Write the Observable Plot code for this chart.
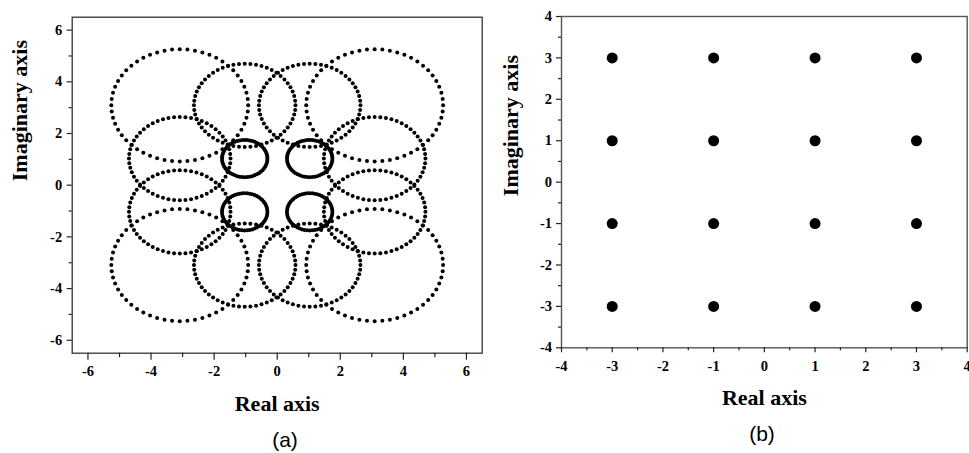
<!DOCTYPE html>
<html><head><meta charset="utf-8">
<script src="https://cdn.jsdelivr.net/npm/d3@7"></script>
<script src="https://cdn.jsdelivr.net/npm/@observablehq/plot@0.6"></script>
<style>
body{margin:0;background:#fff;}
#wrap{position:relative;width:969px;height:453px;overflow:hidden;background:#fff;}
#pa{position:absolute;left:0;top:0;}
#pb{position:absolute;left:490px;top:0;}
.cap{position:absolute;font-family:"Liberation Sans",Arial,sans-serif;font-size:21px;transform:translate(-50%,-50%);white-space:nowrap;}
#wrap svg g[aria-label="x-axis tick label"],
#wrap svg g[aria-label="y-axis tick label"],
#wrap svg g[aria-label="x-axis tick label"] text,
#wrap svg g[aria-label="y-axis tick label"] text{
  font-size:14.5px !important;font-weight:bold !important;font-family:"Liberation Serif","Times New Roman",serif !important;fill:#000;
}
</style></head><body>
<div id="wrap"><div id="pa"></div><div id="pb"></div>
<div class="cap" style="left:285px;top:440px">(a)</div>
<div class="cap" style="left:762px;top:434px">(b)</div>
</div>
<script>
// ---- Panel (a): loop centres and radii, 16 loops ----
const loopCenterRe = [-3.09,-1.03,1.03,3.09, -3.09,-1.03,1.03,3.09, -3.09,-1.03,1.03,3.09, -3.09,-1.03,1.03,3.09];
const loopCenterIm = [3.09,3.09,3.09,3.09, 1.03,1.03,1.03,1.03, -1.03,-1.03,-1.03,-1.03, -3.09,-3.09,-3.09,-3.09];
const loopRadius   = [2.17,1.61,1.61,2.17, 1.61,0.72,0.72,1.61, 1.61,0.72,0.72,1.61, 2.17,1.61,1.61,2.17];
const dotsPerLoop = 56;

// ---- Panel (b): 16-QAM constellation ----
const qamRe = [-3,-1,1,3, -3,-1,1,3, -3,-1,1,3, -3,-1,1,3];
const qamIm = [3,3,3,3, 1,1,1,1, -1,-1,-1,-1, -3,-3,-3,-3];

// ---- tick values ----
const ticksA_major = [-6,-4,-2,0,2,4,6];
const ticksA_minor = [-5,-3,-1,1,3,5];
const ticksB_major = [-4,-3,-2,-1,0,1,2,3,4];
const ticksB_minor = [-3.5,-2.5,-1.5,-0.5,0.5,1.5,2.5,3.5];

// table of dots along each loop (circle outline sampled for drawing)
const loopTable = [];
loopCenterRe.forEach((cx, i) => {
  const cy = loopCenterIm[i], r = loopRadius[i];
  for (let k = 0; k < dotsPerLoop; k++) {
    const t = 2 * Math.PI * k / dotsPerLoop;
    loopTable.push({re: cx + r * Math.cos(t), im: cy + r * Math.sin(t)});
  }
});
const qamTable = qamRe.map((re, i) => ({re, im: qamIm[i]}));

const serif = '"Liberation Serif","Times New Roman",serif';
const fmt = d => String(d);
const ink = "#222";
const tf = 14.5;

const plotA = Plot.plot({
  width: 490, height: 415,
  marginLeft: 71.7, marginRight: 8.3, marginTop: 16.7, marginBottom: 62.3,
  x: {domain: [-6.5, 6.5]},
  y: {domain: [-6.5, 6.5]},
  style: {fontFamily: serif, fontWeight: "bold", fontSize: "14px", background: "transparent", overflow: "visible", color: "black"},
  marks: [
    Plot.dot(loopTable, {x: "re", y: "im", r: 2, fill: "black", stroke: "none"}),
    Plot.frame({stroke: "#333", strokeWidth: 1.3}),
    Plot.axisX(ticksA_major, {tickSize: 7, tickPadding: 6, tickFormat: fmt, label: null, stroke: ink, strokeWidth: 1.2, fill: "black", fontSize: tf, fontWeight: "bold", fontFamily: serif}),
    Plot.axisX(ticksA_minor, {tickSize: 4.5, tickFormat: () => "", label: null, stroke: ink, strokeWidth: 1.2}),
    Plot.axisY(ticksA_major, {tickSize: 5, tickPadding: 5, tickFormat: fmt, label: null, stroke: ink, strokeWidth: 1.2, fill: "black", fontSize: tf, fontWeight: "bold", fontFamily: serif}),
    Plot.axisY(ticksA_minor, {tickSize: 3, tickFormat: () => "", label: null, stroke: ink, strokeWidth: 1.2}),
    Plot.text(["Real axis"], {frameAnchor: "bottom", dy: 51, fontSize: 22, fontWeight: "bold", fontFamily: serif, lineAnchor: "middle", fill: "black"}),
    Plot.text(["Imaginary axis"], {frameAnchor: "left", dx: -52.5, dy: -4, rotate: -90, fontSize: 22, fontWeight: "bold", fontFamily: serif, lineAnchor: "middle", fill: "black"})
  ]
});
document.getElementById("pa").append(plotA);

const plotB = Plot.plot({
  width: 479, height: 415,
  marginLeft: 71, marginRight: 2.3, marginTop: 16, marginBottom: 67.7,
  x: {domain: [-4, 4]},
  y: {domain: [-4, 4]},
  style: {fontFamily: serif, fontWeight: "bold", fontSize: "14px", background: "transparent", overflow: "visible", color: "black"},
  marks: [
    Plot.dot(qamTable, {x: "re", y: "im", r: 5.5, fill: "black", stroke: "none"}),
    Plot.frame({stroke: "#555", strokeWidth: 1.4}),
    Plot.axisX(ticksB_major, {tickSize: 5, tickPadding: 8, tickFormat: fmt, label: null, stroke: ink, strokeWidth: 1.2, fill: "black", fontSize: tf, fontWeight: "bold", fontFamily: serif}),
    Plot.axisX(ticksB_minor, {tickSize: 3, tickFormat: () => "", label: null, stroke: ink, strokeWidth: 1.2}),
    Plot.axisY(ticksB_major, {tickSize: 5, tickPadding: 4.5, tickFormat: fmt, label: null, stroke: ink, strokeWidth: 1.2, fill: "black", fontSize: tf, fontWeight: "bold", fontFamily: serif}),
    Plot.axisY(ticksB_minor, {tickSize: 3, tickFormat: () => "", label: null, stroke: ink, strokeWidth: 1.2}),
    Plot.text(["Real axis"], {frameAnchor: "bottom", dy: 50, fontSize: 22, fontWeight: "bold", fontFamily: serif, lineAnchor: "middle", fill: "black"}),
    Plot.text(["Imaginary axis"], {frameAnchor: "left", dx: -51, dy: 14, rotate: -90, fontSize: 22, fontWeight: "bold", fontFamily: serif, lineAnchor: "middle", fill: "black"})
  ]
});
document.getElementById("pb").append(plotB);
</script>
</body></html>
